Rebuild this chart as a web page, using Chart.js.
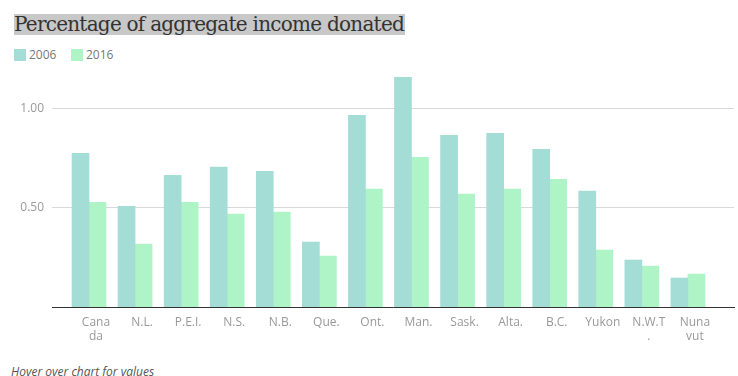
<!DOCTYPE html>
<html>
<head>
<meta charset="utf-8">
<script src="https://cdn.jsdelivr.net/npm/chart.js@4"></script>
<style>
  html, body { margin: 0; padding: 0; background: #fff; width: 738px; height: 376px; overflow: hidden; }
  #title { position: absolute; left: 14px; top: 14px; height: 21px; line-height: 21px; background: #c8c8c8; color: #333;
           font-family: "DejaVu Serif", serif; font-size: 20px; letter-spacing: -0.75px; padding-right: 1px; white-space: nowrap; }
  .leg { position: absolute; top: 49px; height: 12px; font-family: "Open Sans", sans-serif; font-size: 12px; color: #777; line-height: 12px; }
  .leg span.box { display: inline-block; width: 12px; height: 12px; vertical-align: top; margin-right: 3px; }
  #wrap { position: absolute; left: 0; top: 40px; width: 738px; height: 320px; }
  #note { position: absolute; left: 11px; top: 363px; font-family: "Open Sans", sans-serif; font-style: italic; font-size: 12px; color: #555; }
</style>
</head>
<body>
<div id="title">Percentage of aggregate income donated</div>
<div class="leg" style="left:14px"><span class="box" style="background:#a3ddd5"></span>2006</div>
<div class="leg" style="left:71px"><span class="box" style="background:#aef4c6"></span>2016</div>
<div id="wrap"><canvas id="c"></canvas></div>
<div id="note">Hover over chart for values</div>
<script>
const categories = ["Canada", "N.L.", "P.E.I.", "N.S.", "N.B.", "Que.", "Ont.", "Man.", "Sask.", "Alta.", "B.C.", "Yukon", "N.W.T.", "Nunavut"];
const tickLabels = [["Cana", "da"], "N.L.", "P.E.I.", "N.S.", "N.B.", "Que.", "Ont.", "Man.", "Sask.", "Alta.", "B.C.", "Yukon", ["N.W.T", "."], ["Nuna", "vut"]];
const values2006 = [0.775, 0.508, 0.664, 0.705, 0.684, 0.327, 0.966, 1.158, 0.866, 0.876, 0.795, 0.584, 0.237, 0.146];
const values2016 = [0.528, 0.317, 0.528, 0.468, 0.478, 0.257, 0.594, 0.755, 0.569, 0.594, 0.644, 0.287, 0.206, 0.166];
const yTicks = [0.5, 1.0];

const toPoints = arr => arr.map((v, i) => ({ x: i, y: v }));

new Chart(document.getElementById('c'), {
  type: 'bar',
  data: {
    datasets: [
      { label: '2006', data: toPoints(values2006), backgroundColor: '#a3ddd5', barThickness: 17 },
      { label: '2016', data: toPoints(values2016), backgroundColor: '#aef4c6', barThickness: 17 }
    ]
  },
  options: {
    responsive: true,
    maintainAspectRatio: false,
    animation: false,
    layout: { padding: { top: 29, right: 4, bottom: 13, left: 0 } },
    plugins: { legend: { display: false }, title: { display: false },
      tooltip: { callbacks: { title: items => categories[items[0].parsed.x] } } },
    scales: {
      x: {
        type: 'linear',
        offset: false,
        min: -0.803,
        max: 14,
        afterBuildTicks: s => { s.ticks = categories.map((c, i) => ({ value: i })); },
        afterFit: s => { s.height = 40; },
        grid: { display: false, drawTicks: false, offset: false },
        border: { display: true, color: '#333', width: 1 },
        ticks: {
          padding: 8,
          labelOffset: 7,
          autoSkip: false,
          maxRotation: 0,
          color: '#999',
          font: { family: 'Open Sans', size: 12 },
          callback: v => tickLabels[v] !== undefined ? tickLabels[v] : ''
        }
      },
      y: {
        min: 0,
        max: 1.2,
        afterBuildTicks: s => { s.ticks = yTicks.map(v => ({ value: v })); },
        afterFit: s => { s.width = 52; },
        grid: { color: '#d9d9d9', drawTicks: false },
        border: { display: false },
        ticks: {
          padding: 8,
          color: '#999',
          font: { family: 'Open Sans', size: 12 },
          callback: v => v.toFixed(2)
        }
      }
    }
  }
});
</script>
</body>
</html>
